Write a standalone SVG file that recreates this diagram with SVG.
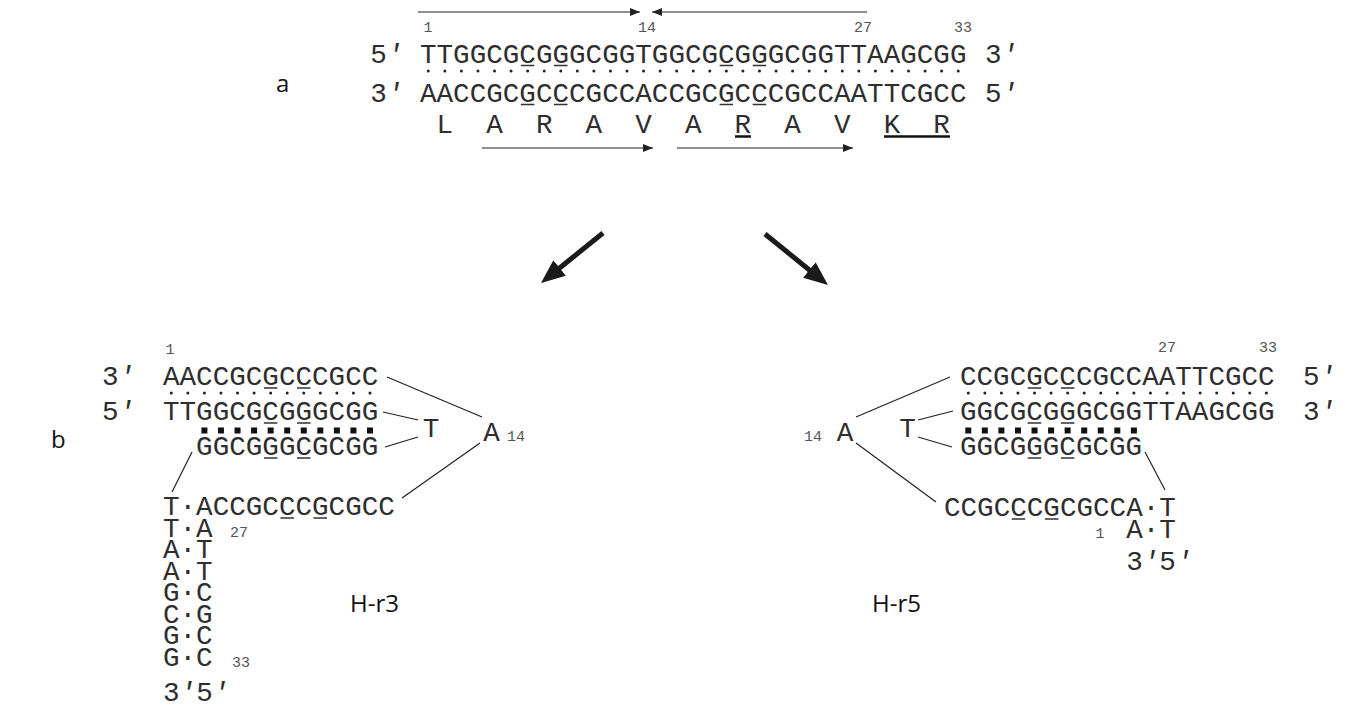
<svg xmlns="http://www.w3.org/2000/svg" width="1346" height="710" viewBox="0 0 1346 710">
<style>
.m{font-family:"Liberation Mono","DejaVu Sans Mono",monospace;font-size:27.6px;fill:#2e2e2e}
.p{font-style:italic}
.n{font-family:"Liberation Mono","DejaVu Sans Mono",monospace;font-size:15px;fill:#555}
.s{font-family:"Open Sans","Liberation Sans",sans-serif;font-size:24px;fill:#111}
.ul{stroke:#333;stroke-width:1.3;fill:none}
.ln{stroke:#222;stroke-width:1.2;fill:none}
.dots{stroke:#222;stroke-width:3;stroke-linecap:round;stroke-dasharray:0 16.56;fill:none}
.sq{stroke:#111;stroke-width:6;stroke-linecap:square;stroke-dasharray:0 16.56;fill:none}
.big{stroke:#1a1a1a;stroke-width:5;fill:none}
</style>
<defs>
<marker id="ah" viewBox="0 0 10 8" refX="10" refY="4" markerWidth="10" markerHeight="8" markerUnits="userSpaceOnUse" orient="auto"><path d="M0,0L10,4L0,8z" fill="#222"/></marker>
<marker id="bh" viewBox="0 0 24 20" refX="2" refY="10" markerWidth="24" markerHeight="20" markerUnits="userSpaceOnUse" orient="auto"><path d="M0,0L24,10L0,20z" fill="#1a1a1a"/></marker>
</defs>
<rect width="1346" height="710" fill="#fff"/>

<g id="label-a"><text class="s" x="276" y="92">a</text></g>
<g id="label-b"><text class="s" x="51" y="448">b</text></g>

<g id="duplex-a">
<text class="n" x="428" y="32" text-anchor="middle">1</text>
<text class="n" x="647" y="32" text-anchor="middle">14</text>
<text class="n" x="863" y="32" text-anchor="middle">27</text>
<text class="n" x="963" y="32" text-anchor="middle">33</text>
<text class="m" x="370.3" y="62.5">5<tspan class="p">′</tspan></text>
<text class="m" x="420" y="62.5">TTGGCGCGGGCGGTGGCGCGGGCGGTTAAGCGG</text>
<text class="m" x="985" y="62.5">3<tspan class="p">′</tspan></text>
<path class="dots" d="M428.28,71H958.7"/>
<text class="m" x="370.3" y="101.5">3<tspan class="p">′</tspan></text>
<text class="m" x="420" y="101.5">AACCGCGCCCGCCACCGCGCCCGCCAATTCGCC</text>
<text class="m" x="985" y="101.5">5<tspan class="p">′</tspan></text>
<path class="ul" d="M520.9,65.5h13.5M554,65.5h13.5M719.6,65.5h13.5M752.7,65.5h13.5M520.9,104.5h13.5M554,104.5h13.5M719.6,104.5h13.5M752.7,104.5h13.5"/>
</g>

<g id="translation">
<text class="m" x="436.56" y="133" xml:space="preserve">L  A  R  A  V  A  R  A  V  K  R</text>
<path d="M735,136.5h16M884,136.5H950" stroke="#111" stroke-width="2.5" fill="none"/>
</g>

<g id="hr3">
<text class="n" x="170" y="354" text-anchor="middle">1</text>
<text class="m" x="102" y="385">3<tspan class="p">′</tspan></text>
<text class="m" x="163" y="385">AACCGCGCCCGCC</text>
<path class="dots" d="M171.28,393H370.5"/>
<text class="m" x="102" y="420">5<tspan class="p">′</tspan></text>
<text class="m" x="163" y="420">TTGGCGCGGGCGG</text>
<path class="sq" d="M204.4,430.5H370.5"/>
<text class="m" x="196.12" y="455">GGCGGGCGCGG</text>
<text class="m" x="431" y="437" text-anchor="middle">T</text>
<text class="m" x="491.5" y="441" text-anchor="middle">A</text>
<text class="n" x="507" y="441">14</text>
<text class="m"><tspan x="163" y="515">T·ACCGCCCGCGCC</tspan><tspan x="163" y="536.5">T·A</tspan><tspan x="163" y="558">A·T</tspan><tspan x="163" y="579.5">A·T</tspan><tspan x="163" y="601">G·C</tspan><tspan x="163" y="622.5">C·G</tspan><tspan x="163" y="644">G·C</tspan><tspan x="163" y="665.5">G·C</tspan></text>
<text class="n" x="230" y="537">27</text>
<text class="n" x="232" y="667">33</text>
<text class="m" x="163" y="701">3<tspan class="p">′</tspan>5<tspan class="p">′</tspan></text>
<path class="ul" d="M263.9,388h13.5M297,388h13.5M263.9,423h13.5M297,423h13.5M263.9,458h13.5M297,458h13.5M280.4,518h13.5M313.5,518h13.5"/>
<text class="s" x="350" y="612">H-r3</text>
</g>

<g id="hr5">
<text class="n" x="1167" y="352" text-anchor="middle">27</text>
<text class="n" x="1268" y="352" text-anchor="middle">33</text>
<text class="m" x="960" y="385">CCGCGCCCGCCAATTCGCC</text>
<text class="m" x="1303" y="385">5<tspan class="p">′</tspan></text>
<path class="dots" d="M968.28,393H1266.9"/>
<text class="m" x="960" y="420">GGCGCGGGCGGTTAAGCGG</text>
<text class="m" x="1303" y="420">3<tspan class="p">′</tspan></text>
<path class="sq" d="M968.28,430.5H1134.4"/>
<text class="m" x="960" y="455">GGCGGGCGCGG</text>
<text class="m" x="845" y="441" text-anchor="middle">A</text>
<text class="n" x="822" y="441" text-anchor="end">14</text>
<text class="m" x="907.5" y="437" text-anchor="middle">T</text>
<text class="m"><tspan x="944" y="516">CCGCCCGCGCCA·T</tspan><tspan x="1126.2" y="538">A·T</tspan></text>
<text class="n" x="1100" y="538" text-anchor="middle" font-size="11">1</text>
<text class="m" x="1126.2" y="570">3<tspan class="p">′</tspan>5<tspan class="p">′</tspan></text>
<path class="ul" d="M1027.7,388h13.5M1060.9,388h13.5M1027.7,423h13.5M1060.9,423h13.5M1027.7,458h13.5M1060.9,458h13.5M1011.7,519h13.5M1044.9,519h13.5"/>
<text class="s" x="872" y="612">H-r5</text>
</g>

<g id="connectors">
<path class="ln" d="M418,12H640" marker-end="url(#ah)"/>
<path class="ln" d="M867,12H652" marker-end="url(#ah)"/>
<path class="ln" d="M482,148H653" marker-end="url(#ah)"/>
<path class="ln" d="M677,148H853" marker-end="url(#ah)"/>
<path class="big" d="M603,233L558.1,269.2" marker-end="url(#bh)"/>
<path class="big" d="M765,234L810.9,271.2" marker-end="url(#bh)"/>
<path class="ln" d="M387,377L482,417M383,412L418,420M385,447L418,437M402,498L480,443M192,452L172,492"/>
<path class="ln" d="M950,377L856,417M953,411L918,420M952,447L918,437M936,502L856,443M1145,452L1165,490"/>
</g>
</svg>
